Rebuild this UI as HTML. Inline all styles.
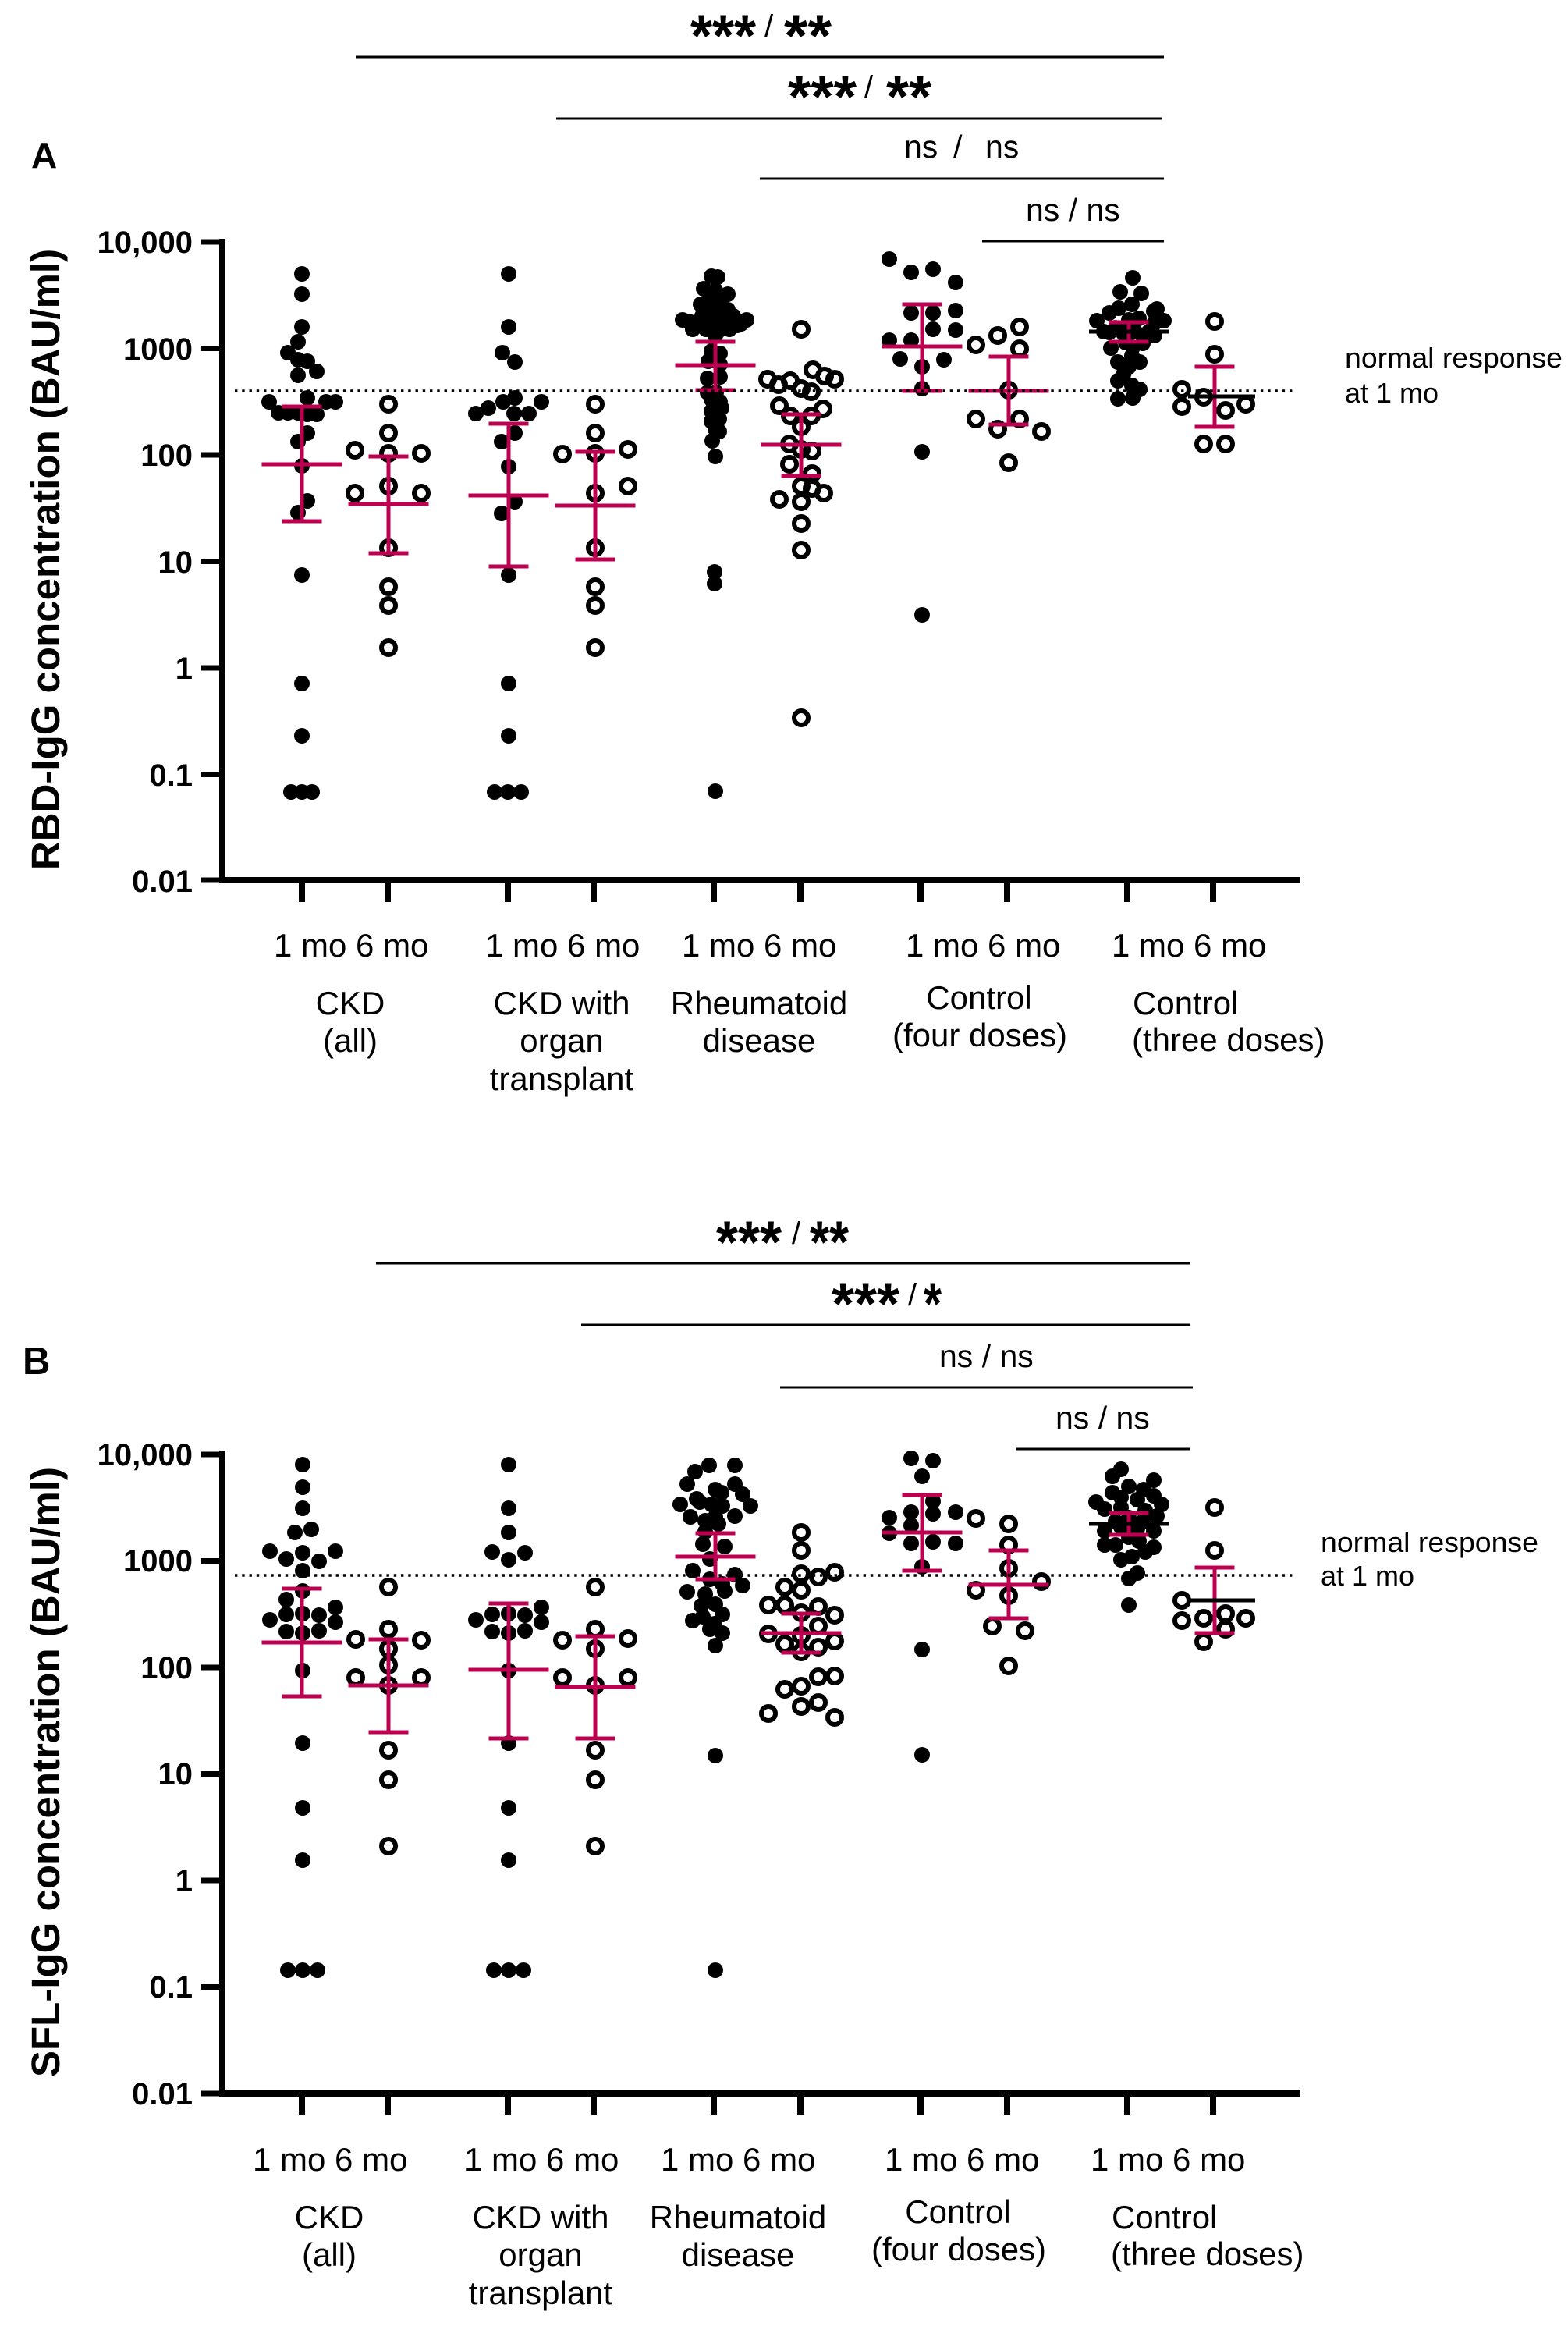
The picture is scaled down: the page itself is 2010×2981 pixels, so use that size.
<!DOCTYPE html>
<html><head><meta charset="utf-8"><style>
html,body{margin:0;padding:0;background:#fff;}
svg{display:block;}
text{font-family:"Liberation Sans",Arial,sans-serif;fill:#000;}
.f{fill:#000;}
.o{fill:none;stroke:#000;stroke-width:6;}
.r{fill:none;stroke:#BE0050;stroke-width:5;}
.k{fill:none;stroke:#000;stroke-width:5;}
.ax{fill:none;stroke:#000;stroke-width:8;}
.sg{stroke:#000;stroke-width:3;}
.dt{stroke:#000;stroke-width:3.5;stroke-dasharray:3.4 5.86;}
.tl{font-size:40px;font-weight:bold;text-anchor:end;}
.xl{font-size:42px;}
.gm{font-size:42px;text-anchor:middle;}
.gs{font-size:42px;}
.ns{font-size:41px;}
.as{font-size:76px;font-weight:bold;}
.sl{font-size:40px;}
.nr{font-size:36px;}
</style></head><body>
<svg width="2010" height="2981" viewBox="0 0 2010 2981" xmlns="http://www.w3.org/2000/svg">
<rect width="2010" height="2981" fill="#fff"/>

<!-- ================= PANEL A ================= -->
<text x="40" y="215" font-size="46" font-weight="bold">A</text>

<!-- significance -->
<line class="sg" x1="456" y1="73" x2="1492" y2="73"/>
<line class="sg" x1="713" y1="152" x2="1490" y2="152"/>
<line class="sg" x1="974" y1="229" x2="1492" y2="229"/>
<line class="sg" x1="1259" y1="309" x2="1492" y2="309"/>
<text class="as" x="885" y="72" textLength="84" lengthAdjust="spacingAndGlyphs">***</text>
<text class="sl" x="980" y="47">/</text>
<text class="as" x="1005" y="72" textLength="61" lengthAdjust="spacingAndGlyphs">**</text>
<text class="as" x="1010" y="150" textLength="88" lengthAdjust="spacingAndGlyphs">***</text>
<text class="sl" x="1108" y="125">/</text>
<text class="as" x="1136" y="150" textLength="58" lengthAdjust="spacingAndGlyphs">**</text>
<text class="ns" y="202"><tspan x="1159">ns</tspan><tspan x="1222">/</tspan><tspan x="1263">ns</tspan></text>
<text class="ns" x="1315" y="283">ns / ns</text>

<!-- axis title -->
<text transform="translate(76,717) rotate(-90)" text-anchor="middle" font-size="51" font-weight="bold">RBD-IgG concentration (BAU/ml)</text>

<!-- y ticks labels -->
<text class="tl" x="247" y="324">10,000</text>
<text class="tl" x="247" y="461">1000</text>
<text class="tl" x="247" y="597">100</text>
<text class="tl" x="247" y="734">10</text>
<text class="tl" x="247" y="870">1</text>
<text class="tl" x="247" y="1007">0.1</text>
<text class="tl" x="247" y="1143">0.01</text>

<!-- axes -->
<path class="ax" d="M285 306V1131M281 1128H1666"/>
<path class="ax" style="stroke-width:7" d="M258 310H285M258 446.5H285M258 583H285M258 719.5H285M258 856H285M258 992.5H285M258 1128H285"/>
<path class="ax" d="M387 1128V1156M497 1128V1156M651 1128V1156M761 1128V1156M915 1128V1156M1026 1128V1156M1180 1128V1156M1291 1128V1156M1445 1128V1156M1555 1128V1156"/>

<!-- x labels -->
<text class="xl" x="351" y="1226">1 mo 6 mo</text>
<text class="xl" x="622" y="1226">1 mo 6 mo</text>
<text class="xl" x="874" y="1226">1 mo 6 mo</text>
<text class="xl" x="1161" y="1226">1 mo 6 mo</text>
<text class="xl" x="1425" y="1226">1 mo 6 mo</text>
<text class="gm" x="449" y="1300">CKD</text>
<text class="gm" x="449" y="1348">(all)</text>
<text class="gm" x="720" y="1300">CKD with</text>
<text class="gm" x="720" y="1348">organ</text>
<text class="gm" x="720" y="1397">transplant</text>
<text class="gm" x="973" y="1300">Rheumatoid</text>
<text class="gm" x="973" y="1348">disease</text>
<text class="gm" x="1255" y="1293">Control</text>
<text class="gm" x="1256" y="1341">(four doses)</text>
<text class="gs" x="1452" y="1300">Control</text>
<text class="gs" x="1451" y="1347">(three doses)</text>

<text class="nr" x="1724" y="471" textLength="279" lengthAdjust="spacingAndGlyphs">normal response</text>
<text class="nr" x="1724" y="516">at 1 mo</text>

<!-- points A: filled -->
<g class="f">
<circle cx="387" cy="351" r="10"/><circle cx="387" cy="377" r="10"/><circle cx="387" cy="419" r="10"/><circle cx="382" cy="438" r="10"/><circle cx="369" cy="452" r="10"/><circle cx="382" cy="461" r="10"/><circle cx="394" cy="463" r="10"/><circle cx="382" cy="481" r="10"/><circle cx="406" cy="476" r="10"/><circle cx="345" cy="515" r="10"/><circle cx="394" cy="510" r="10"/><circle cx="418" cy="515" r="10"/><circle cx="430" cy="515" r="10"/><circle cx="357" cy="529" r="10"/><circle cx="369" cy="529" r="10"/><circle cx="382" cy="529" r="10"/><circle cx="394" cy="531" r="10"/><circle cx="406" cy="531" r="10"/><circle cx="394" cy="555" r="10"/><circle cx="382" cy="566" r="10"/><circle cx="387" cy="597" r="10"/><circle cx="394" cy="642" r="10"/><circle cx="382" cy="657" r="10"/><circle cx="387" cy="737" r="10"/><circle cx="387" cy="876" r="10"/><circle cx="387" cy="943" r="10"/><circle cx="373" cy="1015" r="10"/><circle cx="387" cy="1015" r="10"/><circle cx="400" cy="1015" r="10"/>
<circle cx="652" cy="351" r="10"/><circle cx="652" cy="419" r="10"/><circle cx="644" cy="452" r="10"/><circle cx="660" cy="464" r="10"/><circle cx="645" cy="515" r="10"/><circle cx="660" cy="510" r="10"/><circle cx="694" cy="515" r="10"/><circle cx="610" cy="530" r="10"/><circle cx="626" cy="523" r="10"/><circle cx="659" cy="530" r="10"/><circle cx="678" cy="530" r="10"/><circle cx="660" cy="555" r="10"/><circle cx="643" cy="566" r="10"/><circle cx="652" cy="598" r="10"/><circle cx="660" cy="643" r="10"/><circle cx="643" cy="658" r="10"/><circle cx="652" cy="737" r="10"/><circle cx="652" cy="876" r="10"/><circle cx="652" cy="943" r="10"/><circle cx="634" cy="1015" r="10"/><circle cx="651" cy="1015" r="10"/><circle cx="668" cy="1015" r="10"/>
<circle cx="912" cy="354" r="10"/><circle cx="920" cy="355" r="10"/><circle cx="902" cy="370" r="10"/><circle cx="917" cy="372" r="10"/><circle cx="933" cy="377" r="10"/><circle cx="925" cy="380" r="10"/><circle cx="898" cy="390" r="10"/><circle cx="912" cy="385" r="10"/><circle cx="923" cy="392" r="10"/><circle cx="915" cy="395" r="10"/><circle cx="933" cy="397" r="10"/><circle cx="908" cy="400" r="10"/><circle cx="918" cy="403" r="10"/><circle cx="940" cy="405" r="10"/><circle cx="900" cy="405" r="10"/><circle cx="928" cy="410" r="10"/><circle cx="910" cy="415" r="10"/><circle cx="875" cy="410" r="10"/><circle cx="883" cy="412" r="10"/><circle cx="893" cy="413" r="10"/><circle cx="957" cy="410" r="10"/><circle cx="950" cy="415" r="10"/><circle cx="888" cy="422" r="10"/><circle cx="905" cy="422" r="10"/><circle cx="920" cy="425" r="10"/><circle cx="935" cy="422" r="10"/><circle cx="945" cy="417" r="10"/><circle cx="917" cy="430" r="10"/><circle cx="912" cy="450" r="10"/><circle cx="923" cy="453" r="10"/><circle cx="908" cy="463" r="10"/><circle cx="923" cy="467" r="10"/><circle cx="907" cy="485" r="10"/><circle cx="923" cy="483" r="10"/><circle cx="907" cy="503" r="10"/><circle cx="918" cy="503" r="10"/><circle cx="912" cy="512" r="10"/><circle cx="923" cy="515" r="10"/><circle cx="912" cy="527" r="10"/><circle cx="925" cy="523" r="10"/><circle cx="912" cy="540" r="10"/><circle cx="922" cy="537" r="10"/><circle cx="917" cy="550" r="10"/><circle cx="922" cy="553" r="10"/><circle cx="913" cy="565" r="10"/><circle cx="917" cy="585" r="10"/><circle cx="916" cy="733" r="10"/><circle cx="916" cy="748" r="10"/><circle cx="917" cy="1014" r="10"/>
<circle cx="1140" cy="332" r="10"/><circle cx="1168" cy="349" r="10"/><circle cx="1196" cy="345" r="10"/><circle cx="1225" cy="362" r="10"/><circle cx="1168" cy="401" r="10"/><circle cx="1196" cy="401" r="10"/><circle cx="1225" cy="398" r="10"/><circle cx="1196" cy="422" r="10"/><circle cx="1225" cy="423" r="10"/><circle cx="1140" cy="436" r="10"/><circle cx="1168" cy="436" r="10"/><circle cx="1154" cy="460" r="10"/><circle cx="1210" cy="461" r="10"/><circle cx="1182" cy="470" r="10"/><circle cx="1182" cy="498" r="10"/><circle cx="1182" cy="579" r="10"/><circle cx="1182" cy="788" r="10"/>
<circle cx="1452" cy="356" r="10"/><circle cx="1436" cy="374" r="10"/><circle cx="1463" cy="376" r="10"/><circle cx="1434" cy="395" r="10"/><circle cx="1451" cy="390" r="10"/><circle cx="1483" cy="396" r="10"/><circle cx="1479" cy="399" r="10"/><circle cx="1406" cy="411" r="10"/><circle cx="1422" cy="401" r="10"/><circle cx="1492" cy="411" r="10"/><circle cx="1479" cy="415" r="10"/><circle cx="1447" cy="410" r="10"/><circle cx="1460" cy="408" r="10"/><circle cx="1430" cy="420" r="10"/><circle cx="1415" cy="425" r="10"/><circle cx="1422" cy="426" r="10"/><circle cx="1480" cy="430" r="10"/><circle cx="1455" cy="425" r="10"/><circle cx="1440" cy="427" r="10"/><circle cx="1472" cy="426" r="10"/><circle cx="1465" cy="440" r="10"/><circle cx="1443" cy="439" r="10"/><circle cx="1424" cy="446" r="10"/><circle cx="1452" cy="445" r="10"/><circle cx="1433" cy="464" r="10"/><circle cx="1451" cy="456" r="10"/><circle cx="1461" cy="464" r="10"/><circle cx="1447" cy="470" r="10"/><circle cx="1440" cy="480" r="10"/><circle cx="1433" cy="488" r="10"/><circle cx="1461" cy="499" r="10"/><circle cx="1451" cy="494" r="10"/><circle cx="1433" cy="511" r="10"/><circle cx="1452" cy="510" r="10"/>
</g>
<!-- points A: open -->
<g class="o">
<circle cx="498" cy="518" r="9"/><circle cx="498" cy="555" r="9"/><circle cx="455" cy="577" r="9"/><circle cx="498" cy="581" r="9"/><circle cx="540" cy="581" r="9"/><circle cx="498" cy="623" r="9"/><circle cx="455" cy="632" r="9"/><circle cx="540" cy="632" r="9"/><circle cx="498" cy="702" r="9"/><circle cx="498" cy="752" r="9"/><circle cx="498" cy="776" r="9"/><circle cx="498" cy="830" r="9"/>
<circle cx="763" cy="518" r="9"/><circle cx="763" cy="555" r="9"/><circle cx="721" cy="582" r="9"/><circle cx="763" cy="581" r="9"/><circle cx="805" cy="576" r="9"/><circle cx="763" cy="632" r="9"/><circle cx="805" cy="623" r="9"/><circle cx="763" cy="702" r="9"/><circle cx="763" cy="752" r="9"/><circle cx="763" cy="776" r="9"/><circle cx="763" cy="830" r="9"/>
<circle cx="1027" cy="422" r="9"/><circle cx="984" cy="486" r="9"/><circle cx="998" cy="493" r="9"/><circle cx="1013" cy="488" r="9"/><circle cx="1027" cy="498" r="9"/><circle cx="1040" cy="502" r="9"/><circle cx="1042" cy="474" r="9"/><circle cx="1057" cy="482" r="9"/><circle cx="1070" cy="486" r="9"/><circle cx="999" cy="520" r="9"/><circle cx="1013" cy="533" r="9"/><circle cx="1040" cy="533" r="9"/><circle cx="1055" cy="524" r="9"/><circle cx="1027" cy="547" r="9"/><circle cx="1012" cy="569" r="9"/><circle cx="1027" cy="576" r="9"/><circle cx="1041" cy="578" r="9"/><circle cx="1012" cy="595" r="9"/><circle cx="1041" cy="607" r="9"/><circle cx="1027" cy="623" r="9"/><circle cx="1041" cy="626" r="9"/><circle cx="1056" cy="632" r="9"/><circle cx="999" cy="640" r="9"/><circle cx="1027" cy="643" r="9"/><circle cx="1027" cy="671" r="9"/><circle cx="1027" cy="705" r="9"/><circle cx="1027" cy="920" r="9"/>
<circle cx="1251" cy="442" r="9"/><circle cx="1279" cy="430" r="9"/><circle cx="1307" cy="419" r="9"/><circle cx="1307" cy="447" r="9"/><circle cx="1293" cy="500" r="9"/><circle cx="1251" cy="537" r="9"/><circle cx="1279" cy="550" r="9"/><circle cx="1307" cy="537" r="9"/><circle cx="1335" cy="553" r="9"/><circle cx="1293" cy="593" r="9"/>
<circle cx="1557" cy="412" r="9"/><circle cx="1557" cy="454" r="9"/><circle cx="1515" cy="499" r="9"/><circle cx="1543" cy="509" r="9"/><circle cx="1515" cy="521" r="9"/><circle cx="1571" cy="526" r="9"/><circle cx="1597" cy="518" r="9"/><circle cx="1543" cy="569" r="9"/><circle cx="1571" cy="569" r="9"/>
</g>

<!-- error bars A -->
<path class="r" d="M335.5 595H438.5M387 521V668M361.5 521H412.5M361.5 668H412.5
M446.5 646H549.5M498 585V709M472.5 585H523.5M472.5 709H523.5
M600.5 635H703.5M652 543V726M626.5 543H677.5M626.5 726H677.5
M711.5 648H814.5M763 579V717M737.5 579H788.5M737.5 717H788.5
M865.5 468H968.5M917 438V500M891.5 438H942.5M891.5 500H942.5
M975.5 570H1078.5M1027 531V610M1001.5 531H1052.5M1001.5 610H1052.5
M1130.5 444H1233.5M1182 390V501M1156.5 390H1207.5M1156.5 501H1207.5
M1241.5 501H1344.5M1293 457V544M1267.5 457H1318.5M1267.5 544H1318.5
M1447 413V438M1421.5 413H1472.5M1421.5 438H1472.5
M1557 470V547M1531.5 470H1582.5M1531.5 547H1582.5"/>
<path class="k" d="M1396 425H1499M1523 508H1609"/>

<line class="dt" x1="301" y1="501" x2="1658" y2="501"/>

<!-- ================= PANEL B ================= -->
<text x="29" y="1761" font-size="49" font-weight="bold">B</text>

<line class="sg" x1="482" y1="1619" x2="1525" y2="1619"/>
<line class="sg" x1="745" y1="1698" x2="1525" y2="1698"/>
<line class="sg" x1="1000" y1="1778" x2="1529" y2="1778"/>
<line class="sg" x1="1302" y1="1857" x2="1525" y2="1857"/>
<text class="as" x="918" y="1618" textLength="84" lengthAdjust="spacingAndGlyphs">***</text>
<text class="sl" x="1015" y="1594">/</text>
<text class="as" x="1038" y="1618" textLength="50" lengthAdjust="spacingAndGlyphs">**</text>
<text class="as" x="1066" y="1697" textLength="87" lengthAdjust="spacingAndGlyphs">***</text>
<text class="sl" x="1164" y="1673">/</text>
<text class="as" x="1184" y="1697" textLength="23" lengthAdjust="spacingAndGlyphs">*</text>
<text class="ns" x="1204" y="1752">ns / ns</text>
<text class="ns" x="1353" y="1831">ns / ns</text>

<text transform="translate(76,2271) rotate(-90)" text-anchor="middle" font-size="51" font-weight="bold">SFL-IgG concentration (BAU/ml)</text>

<text class="tl" x="247" y="1878">10,000</text>
<text class="tl" x="247" y="2014">1000</text>
<text class="tl" x="247" y="2151">100</text>
<text class="tl" x="247" y="2287">10</text>
<text class="tl" x="247" y="2424">1</text>
<text class="tl" x="247" y="2560">0.1</text>
<text class="tl" x="247" y="2697">0.01</text>

<path class="ax" d="M285 1860V2687M281 2683H1666"/>
<path class="ax" style="stroke-width:7" d="M258 1864H285M258 2000.5H285M258 2137H285M258 2273.5H285M258 2410H285M258 2546.5H285M258 2683H285"/>
<path class="ax" d="M387 2683V2711M497 2683V2711M651 2683V2711M761 2683V2711M915 2683V2711M1026 2683V2711M1180 2683V2711M1291 2683V2711M1445 2683V2711M1555 2683V2711"/>

<text class="xl" x="324" y="2782">1 mo 6 mo</text>
<text class="xl" x="595" y="2782">1 mo 6 mo</text>
<text class="xl" x="847" y="2782">1 mo 6 mo</text>
<text class="xl" x="1134" y="2782">1 mo 6 mo</text>
<text class="xl" x="1398" y="2782">1 mo 6 mo</text>
<text class="gm" x="422" y="2856">CKD</text>
<text class="gm" x="422" y="2904">(all)</text>
<text class="gm" x="693" y="2856">CKD with</text>
<text class="gm" x="693" y="2904">organ</text>
<text class="gm" x="693" y="2953">transplant</text>
<text class="gm" x="946" y="2856">Rheumatoid</text>
<text class="gm" x="946" y="2904">disease</text>
<text class="gm" x="1228" y="2849">Control</text>
<text class="gm" x="1229" y="2897">(four doses)</text>
<text class="gs" x="1425" y="2856">Control</text>
<text class="gs" x="1424" y="2903">(three doses)</text>

<text class="nr" x="1693" y="1989" textLength="279" lengthAdjust="spacingAndGlyphs">normal response</text>
<text class="nr" x="1693" y="2032">at 1 mo</text>

<g class="f">
<circle cx="388" cy="1877" r="10"/><circle cx="388" cy="1906" r="10"/><circle cx="388" cy="1933" r="10"/><circle cx="378" cy="1964" r="10"/><circle cx="399" cy="1960" r="10"/><circle cx="346" cy="1988" r="10"/><circle cx="388" cy="1990" r="10"/><circle cx="430" cy="1988" r="10"/><circle cx="367" cy="1998" r="10"/><circle cx="409" cy="2001" r="10"/><circle cx="388" cy="2013" r="10"/><circle cx="388" cy="2039" r="10"/><circle cx="367" cy="2050" r="10"/><circle cx="430" cy="2060" r="10"/><circle cx="346" cy="2076" r="10"/><circle cx="367" cy="2069" r="10"/><circle cx="388" cy="2068" r="10"/><circle cx="409" cy="2070" r="10"/><circle cx="430" cy="2079" r="10"/><circle cx="367" cy="2091" r="10"/><circle cx="388" cy="2093" r="10"/><circle cx="409" cy="2090" r="10"/><circle cx="388" cy="2141" r="10"/><circle cx="388" cy="2234" r="10"/><circle cx="388" cy="2317" r="10"/><circle cx="388" cy="2384" r="10"/><circle cx="369" cy="2525" r="10"/><circle cx="388" cy="2525" r="10"/><circle cx="407" cy="2525" r="10"/>
<circle cx="652" cy="1877" r="10"/><circle cx="652" cy="1933" r="10"/><circle cx="652" cy="1964" r="10"/><circle cx="631" cy="1989" r="10"/><circle cx="673" cy="1990" r="10"/><circle cx="652" cy="1999" r="10"/><circle cx="694" cy="2060" r="10"/><circle cx="610" cy="2076" r="10"/><circle cx="631" cy="2069" r="10"/><circle cx="652" cy="2068" r="10"/><circle cx="673" cy="2070" r="10"/><circle cx="694" cy="2079" r="10"/><circle cx="631" cy="2091" r="10"/><circle cx="652" cy="2093" r="10"/><circle cx="673" cy="2090" r="10"/><circle cx="652" cy="2141" r="10"/><circle cx="652" cy="2234" r="10"/><circle cx="652" cy="2317" r="10"/><circle cx="652" cy="2384" r="10"/><circle cx="633" cy="2525" r="10"/><circle cx="652" cy="2525" r="10"/><circle cx="671" cy="2525" r="10"/>
<circle cx="909" cy="1878" r="10"/><circle cx="942" cy="1878" r="10"/><circle cx="891" cy="1886" r="10"/><circle cx="881" cy="1902" r="10"/><circle cx="917" cy="1909" r="10"/><circle cx="942" cy="1902" r="10"/><circle cx="952" cy="1915" r="10"/><circle cx="925" cy="1913" r="10"/><circle cx="893" cy="1921" r="10"/><circle cx="872" cy="1928" r="10"/><circle cx="897" cy="1925" r="10"/><circle cx="926" cy="1930" r="10"/><circle cx="962" cy="1930" r="10"/><circle cx="912" cy="1928" r="10"/><circle cx="885" cy="1944" r="10"/><circle cx="917" cy="1944" r="10"/><circle cx="942" cy="1943" r="10"/><circle cx="904" cy="1949" r="10"/><circle cx="921" cy="1953" r="10"/><circle cx="904" cy="1963" r="10"/><circle cx="901" cy="1979" r="10"/><circle cx="929" cy="1982" r="10"/><circle cx="910" cy="1998" r="10"/><circle cx="888" cy="2013" r="10"/><circle cx="942" cy="2018" r="10"/><circle cx="910" cy="2024" r="10"/><circle cx="926" cy="2030" r="10"/><circle cx="952" cy="2032" r="10"/><circle cx="881" cy="2040" r="10"/><circle cx="904" cy="2043" r="10"/><circle cx="929" cy="2039" r="10"/><circle cx="917" cy="2056" r="10"/><circle cx="899" cy="2058" r="10"/><circle cx="901" cy="2072" r="10"/><circle cx="926" cy="2069" r="10"/><circle cx="888" cy="2077" r="10"/><circle cx="916" cy="2081" r="10"/><circle cx="910" cy="2088" r="10"/><circle cx="926" cy="2093" r="10"/><circle cx="917" cy="2109" r="10"/><circle cx="917" cy="2250" r="10"/><circle cx="917" cy="2525" r="10"/>
<circle cx="1168" cy="1869" r="10"/><circle cx="1196" cy="1872" r="10"/><circle cx="1182" cy="1892" r="10"/><circle cx="1196" cy="1924" r="10"/><circle cx="1140" cy="1945" r="10"/><circle cx="1168" cy="1938" r="10"/><circle cx="1196" cy="1940" r="10"/><circle cx="1225" cy="1938" r="10"/><circle cx="1168" cy="1955" r="10"/><circle cx="1140" cy="1965" r="10"/><circle cx="1168" cy="1978" r="10"/><circle cx="1196" cy="1976" r="10"/><circle cx="1225" cy="1978" r="10"/><circle cx="1182" cy="2008" r="10"/><circle cx="1182" cy="2114" r="10"/><circle cx="1182" cy="2249" r="10"/>
<circle cx="1437" cy="1883" r="10"/><circle cx="1426" cy="1892" r="10"/><circle cx="1447" cy="1905" r="10"/><circle cx="1479" cy="1897" r="10"/><circle cx="1426" cy="1913" r="10"/><circle cx="1466" cy="1909" r="10"/><circle cx="1405" cy="1925" r="10"/><circle cx="1437" cy="1919" r="10"/><circle cx="1458" cy="1922" r="10"/><circle cx="1479" cy="1917" r="10"/><circle cx="1489" cy="1928" r="10"/><circle cx="1416" cy="1934" r="10"/><circle cx="1437" cy="1932" r="10"/><circle cx="1468" cy="1936" r="10"/><circle cx="1483" cy="1943" r="10"/><circle cx="1447" cy="1945" r="10"/><circle cx="1430" cy="1950" r="10"/><circle cx="1465" cy="1950" r="10"/><circle cx="1416" cy="1962" r="10"/><circle cx="1479" cy="1962" r="10"/><circle cx="1437" cy="1957" r="10"/><circle cx="1458" cy="1959" r="10"/><circle cx="1447" cy="1970" r="10"/><circle cx="1460" cy="1975" r="10"/><circle cx="1416" cy="1980" r="10"/><circle cx="1430" cy="1980" r="10"/><circle cx="1479" cy="1983" r="10"/><circle cx="1468" cy="1989" r="10"/><circle cx="1437" cy="1999" r="10"/><circle cx="1451" cy="1995" r="10"/><circle cx="1458" cy="2016" r="10"/><circle cx="1447" cy="2023" r="10"/><circle cx="1447" cy="2057" r="10"/>
</g>
<g class="o">
<circle cx="498" cy="2034" r="9"/><circle cx="498" cy="2088" r="9"/><circle cx="456" cy="2101" r="9"/><circle cx="540" cy="2102" r="9"/><circle cx="498" cy="2113" r="9"/><circle cx="498" cy="2134" r="9"/><circle cx="456" cy="2150" r="9"/><circle cx="540" cy="2150" r="9"/><circle cx="498" cy="2160" r="9"/><circle cx="498" cy="2243" r="9"/><circle cx="498" cy="2281" r="9"/><circle cx="498" cy="2366" r="9"/>
<circle cx="763" cy="2034" r="9"/><circle cx="763" cy="2088" r="9"/><circle cx="721" cy="2102" r="9"/><circle cx="805" cy="2100" r="9"/><circle cx="763" cy="2113" r="9"/><circle cx="721" cy="2150" r="9"/><circle cx="805" cy="2150" r="9"/><circle cx="763" cy="2160" r="9"/><circle cx="763" cy="2243" r="9"/><circle cx="763" cy="2281" r="9"/><circle cx="763" cy="2366" r="9"/>
<circle cx="1027" cy="1964" r="9"/><circle cx="1027" cy="1987" r="9"/><circle cx="1027" cy="2017" r="9"/><circle cx="1049" cy="2021" r="9"/><circle cx="1070" cy="2015" r="9"/><circle cx="1006" cy="2034" r="9"/><circle cx="1027" cy="2038" r="9"/><circle cx="985" cy="2057" r="9"/><circle cx="1006" cy="2057" r="9"/><circle cx="1027" cy="2067" r="9"/><circle cx="1049" cy="2059" r="9"/><circle cx="1070" cy="2070" r="9"/><circle cx="1049" cy="2084" r="9"/><circle cx="985" cy="2094" r="9"/><circle cx="1027" cy="2096" r="9"/><circle cx="1006" cy="2107" r="9"/><circle cx="1049" cy="2111" r="9"/><circle cx="1070" cy="2103" r="9"/><circle cx="1027" cy="2117" r="9"/><circle cx="1049" cy="2149" r="9"/><circle cx="1070" cy="2148" r="9"/><circle cx="1006" cy="2165" r="9"/><circle cx="1027" cy="2161" r="9"/><circle cx="1027" cy="2187" r="9"/><circle cx="1049" cy="2182" r="9"/><circle cx="985" cy="2196" r="9"/><circle cx="1070" cy="2201" r="9"/>
<circle cx="1251" cy="1946" r="9"/><circle cx="1293" cy="1953" r="9"/><circle cx="1293" cy="1980" r="9"/><circle cx="1293" cy="2010" r="9"/><circle cx="1335" cy="2027" r="9"/><circle cx="1251" cy="2038" r="9"/><circle cx="1293" cy="2045" r="9"/><circle cx="1272" cy="2084" r="9"/><circle cx="1314" cy="2090" r="9"/><circle cx="1293" cy="2135" r="9"/>
<circle cx="1557" cy="1932" r="9"/><circle cx="1557" cy="1987" r="9"/><circle cx="1515" cy="2051" r="9"/><circle cx="1515" cy="2077" r="9"/><circle cx="1543" cy="2074" r="9"/><circle cx="1571" cy="2068" r="9"/><circle cx="1597" cy="2074" r="9"/><circle cx="1571" cy="2088" r="9"/><circle cx="1543" cy="2104" r="9"/>
</g>

<path class="r" d="M335.5 2105H438.5M387 2036V2174M361.5 2036H412.5M361.5 2174H412.5
M446.5 2160H549.5M498 2101V2220M472.5 2101H523.5M472.5 2220H523.5
M600.5 2140H703.5M652 2055V2228M626.5 2055H677.5M626.5 2228H677.5
M711.5 2162H814.5M763 2097V2228M737.5 2097H788.5M737.5 2228H788.5
M865.5 1995H968.5M917 1965V2024M891.5 1965H942.5M891.5 2024H942.5
M975.5 2093H1078.5M1027 2068V2118M1001.5 2068H1052.5M1001.5 2118H1052.5
M1130.5 1964H1233.5M1182 1916V2013M1156.5 1916H1207.5M1156.5 2013H1207.5
M1241.5 2031H1344.5M1293 1987V2074M1267.5 1987H1318.5M1267.5 2074H1318.5
M1447 1939V1967M1421.5 1939H1472.5M1421.5 1967H1472.5
M1557 2009V2093M1531.5 2009H1582.5M1531.5 2093H1582.5"/>
<path class="k" d="M1396 1953H1499M1523 2051H1609"/>

<line class="dt" x1="301" y1="2019" x2="1658" y2="2019"/>
</svg>
</body></html>
